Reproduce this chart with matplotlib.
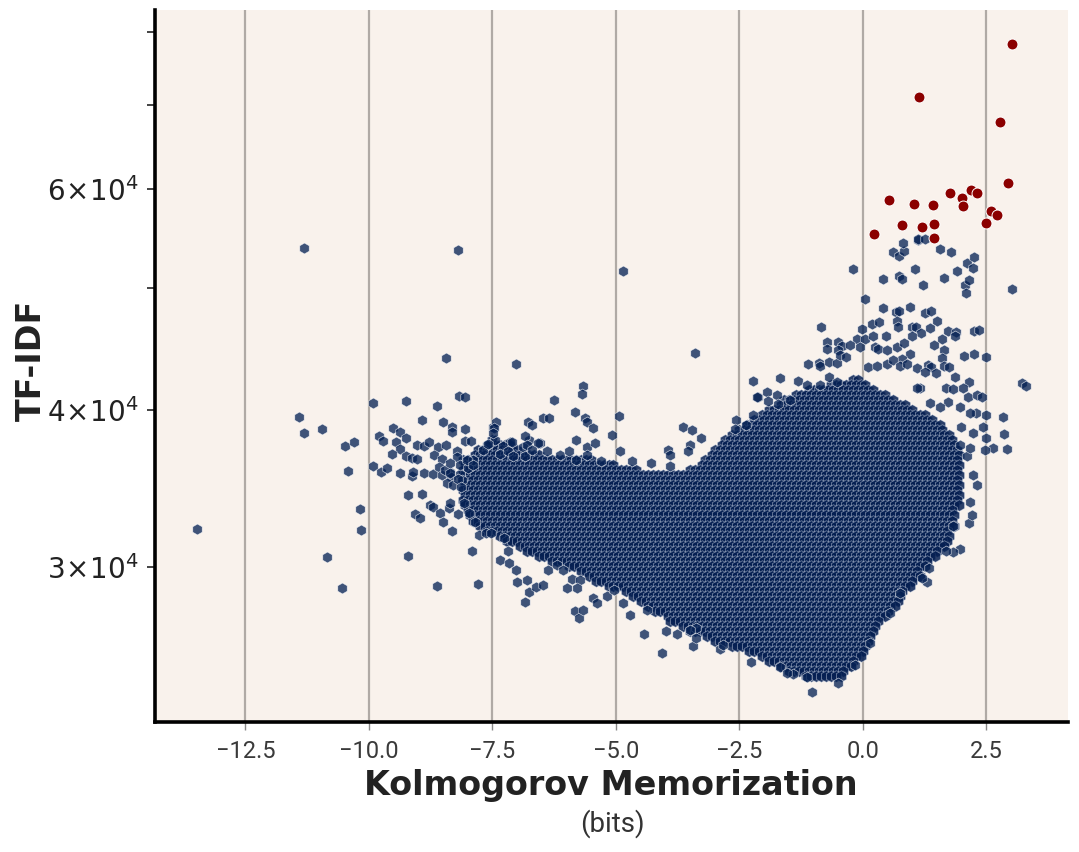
import numpy as np
import matplotlib.pyplot as plt
from matplotlib.ticker import FixedLocator, FuncFormatter, NullFormatter

# column j -> x = GRID_X0 + GRID_DX*j ; row i -> log10(tfidf) = GRID_LOG0 - GRID_DLOG*i
GRID_X0 = -9.6
GRID_DX = 0.1
GRID_LOG0 = np.log10(49000)
GRID_DLOG = 0.004
GRID_FIRST_ROW = 16
CORE_SPANS = [
    "94-95", "89-96", "85-98", "82-100", "80-102", "79-104", "77-106", "75-108",
    "74-110", "72-111", "71-112", "69-113",
    "21-21 68-114", "20-24 67-114", "18-26 66-115", "17-30 65-115",
    "15-41 64-115", "15-45 63-115", "15-50 61-115",
    "15-115", "15-115", "15-115", "15-115", "15-115", "15-115", "15-115",
    "16-114", "16-114", "17-114", "18-114", "20-113", "22-113", "24-113",
    "26-112", "28-111", "30-110", "33-109", "36-108", "39-107", "40-107",
    "42-106", "44-105", "48-104", "49-103", "51-103", "52-102", "54-101",
    "56-100", "57-99", "59-98", "61-98", "64-97", "66-97", "69-96", "73-96",
    "75-95", "77-94", "79-93", "81-92", "84-91",
]

# scattered points around the body (memorization bits, tf-idf)
scatter_x = [
    -13.48, -11.32, -8.20, -8.45, -7.02, -4.86, -3.39, -10.85, -10.54, 3.01, 3.21, 3.30,
    -11.41, -11.32, -10.94, -10.49, -10.31, -10.43, -10.18, -10.16, -9.91, -9.24, -8.63,
    -8.17, -8.05, -8.93, -8.50, -8.32, -8.32, -8.05, -9.51, -9.37, -9.24, -9.80, -9.71,
    -9.46, -9.38, -9.53, -9.24, -9.12, -9.02, -9.02, -8.88, -8.78, -8.60, -8.45, -8.68,
    -8.53, -8.21, -8.22, -8.06, -7.94, -9.91, -9.76, -9.64, -9.37, -9.13, -9.10, -8.89,
    -8.70, -8.59, -8.53, -8.35, -8.34, -8.16, -8.12, -9.20, -8.93, -8.76, -8.71, -8.56,
    -8.37, -8.19, -9.07, -8.97, -8.50, -8.32, -9.21, -8.63, -7.79, -7.91, -8.36, -8.08,
    -7.97, -7.85, -7.77, -7.63, -7.53, -7.26, -7.18, -7.35, -7.16, -7.03, -7.01, -6.80,
    -6.84, -6.76, -6.61, -6.47, -6.37, -6.20, -6.07, -6.00, -5.88, -5.73, -5.78, -5.83,
    -5.74, -5.66, -5.46, -5.38, -5.19, -5.03, -4.86, -4.72, -4.43, -4.38, -4.07, -3.99,
    -3.76, -3.44, -3.37, -3.50, -3.37, -2.89, -2.83, -2.27, -1.04, -0.50, -0.16, -1.41,
    -1.14, -1.68, -1.54, 0.14, 0.55, 0.75, 1.34, 1.29, 1.19, 1.96, 1.83, 1.69, 1.83,
    2.15, 2.20, 2.17, 2.31, 2.23, 2.10, 2.17, 1.96, 2.64, 2.48, 2.91, 2.85, 2.50, 2.42,
    2.23, 1.98, 2.83, 2.50, 2.29, 2.17, 1.96, 1.73, 1.56, 1.36, -2.12, -1.95, -1.75,
    -1.92, -1.73, -1.48, -2.23, -1.68, -1.31, -1.14, -0.87, -0.68, -0.53, -2.15, -2.58,
    -2.60, -2.37, -2.22, -3.64, -3.47, -3.27, -3.50, -3.54, -3.94, -3.91, -4.30, -4.68,
    -3.91, -4.93, -5.07, -4.91, -5.67, -5.69, -6.25, -5.83, -5.63, -5.59, -5.47, -5.80,
    -5.59, -5.43, -5.31, -6.47, -6.35, -6.79, -6.70, -7.14, -6.77, -6.54, -6.88, -7.49,
    -7.42, -7.45, -7.62, -7.69, -7.47, -7.49, -7.29, -7.11, -7.58, -6.85, -6.81, -6.57,
    -7.35, -7.18, -7.08, -6.84, -6.70, -6.40, -6.13, -5.96, -5.80, -5.59, -8.46, -8.36,
    -8.16, -7.99, -7.89, -8.02, -7.89, -8.42, -8.30, -8.36, -8.20, -8.14,
    -0.21, 0.40, 0.73, 0.80, 1.06, 1.22, 1.64, 1.90, 2.06, 2.09, 2.14, 2.10, 2.23, 2.25,
    1.79, 1.55, 0.61, 0.72, 0.84, 0.82, 1.12, 1.11, 1.25, 0.05, 0.40, 0.66, 0.72, 0.95,
    1.26, 1.37, 1.50, -0.84, -0.01, -0.12, 0.04, 0.19, 0.32, 0.68, 0.71, 0.99, 1.07,
    1.17, 1.36, 0.21, 0.46, 1.00, 1.73, 1.88, 1.86, 2.25, 2.35, 1.59, 1.43, 1.63, 1.59,
    -0.72, -0.51, -0.43, -0.26, -0.07, -0.72, -0.51, 0.24, 0.30, 0.48, 0.68, 0.83, 0.96,
    0.80, 2.05, 2.25, 2.50, -1.12, -0.90, -0.87, -0.68, -0.53, -0.47, -0.34, 0.10, 0.28,
    0.48, 0.61, 0.75, 0.90, 1.09, 1.32, 1.38, 1.63, 1.75, 1.26, 1.48, 1.86, 2.15, 1.15,
    1.09, 1.69, 1.83, 2.03, 2.13, 2.30, 2.40,
]
scatter_y = [
    32180, 53810, 53620, 44020, 43520, 51580, 44450, 30570, 28890, 49950, 42070, 41840,
    39500, 38370, 38670, 37440, 37720, 35790, 33360, 32120, 40510, 40710, 40340,
    41080, 40950, 39290, 39125, 38810, 38440, 38630, 38700, 38420, 38040, 38120, 37810,
    37720, 37240, 36920, 36760, 36640, 36560, 37530, 37480, 37720, 37410, 37530, 36870,
    36600, 37140, 36690, 37830, 37810, 36110, 35720, 35960, 35670, 35455, 35740, 35630,
    35570, 36030, 35520, 35740, 35410, 35590, 35200, 34240, 34290, 33620, 33510, 33155,
    33420, 33060, 33060, 32810, 32570, 32080, 30620, 29000, 29090, 30900, 33725, 33725,
    33120, 32590, 31825, 31960, 31930, 31630, 30920, 30400, 30250, 29840, 29180, 29300,
    28130, 28680, 28940, 29020, 29840, 30115, 29840, 28860, 29340, 29300, 28860, 27680,
    27345, 27730, 28340, 28080, 28470, 28770, 28080, 27475, 26520, 27730, 25645, 26700,
    26535, 25960, 26810, 26730, 26320, 25800, 26020, 25220, 23875, 24240, 25070, 24645,
    24540, 24990, 24690, 26090, 27560, 28600, 29930, 29210, 29390, 31000, 30860, 30900, 32355,
    32550, 33015, 33825, 34880, 35520, 36780, 37305, 37530, 37305, 37190, 37240, 38300, 38000, 38770,
    38350, 38810, 39505, 39650, 39820, 39800, 40260, 40630, 40260, 40515, 40960, 41380, 41110,
    40660, 40460, 40760, 42225, 42410, 42200, 41890, 41890, 42530, 42150, 41000, 39290,
    38630, 38930, 39650, 38810, 38580, 38040, 37530, 37120, 37190, 36850, 36330, 36450,
    36110, 39600, 38225, 37120, 41840, 41210, 40760, 39895, 39455, 39170, 38700, 37880,
    37410, 37650, 36440, 39455, 39455, 39170, 38910, 37760, 37880, 37650, 37370, 38810,
    39125, 37880, 37530, 37190, 38700, 38350, 37460, 37760, 37600, 38160, 37530, 37650,
    36920, 37140, 36750, 36750, 37190, 37080, 36850, 37080, 36510, 36850, 35850, 36290,
    36180, 35960, 36510, 36510, 36200, 34990, 34880, 35630, 35265, 34770,
    51770, 50910, 51190, 50910, 51770, 50345, 51005, 51635, 50345, 49615, 50790, 52410, 51860, 52930,
    53415, 53710, 53475, 53055, 53530, 54360, 54630, 54720, 54750, 49025, 48220, 47920, 47980, 48360,
    47780, 47980, 47055, 46570, 46400, 45580, 45600, 46855, 47000, 47115, 46570, 46570, 46570,
    46060, 46485, 45830, 45780, 45830, 46280, 46145, 45810, 46250, 46340, 45550, 45080, 44670, 44045,
    45360, 45310, 45000, 45060, 44930, 44750, 44670, 44890, 44730, 44670, 44890, 45270, 44345,
    43965, 44205, 44320, 44085, 43515, 43645, 43405, 43725, 43595, 44255, 44120, 43325, 43380,
    43540, 43860, 43380, 43515, 43195, 43460, 43325, 43380, 43325, 42925, 42800, 42485, 42150, 41685,
    41640, 41685, 41585, 41640, 41000, 41130, 41000,
]

# flagged high tf-idf points (red)
flag_x = [3.02, 1.13, 2.77, 2.94, 0.53, 1.03, 1.41, 1.77, 2.00, 2.02,
          2.19, 2.31, 2.59, 2.71, 2.50, 0.79, 1.20, 1.44, 1.44, 0.22]
flag_y = [78300, 71000, 67800, 60600, 58800, 58400, 58300, 59500, 59000, 58200,
          59900, 59500, 57600, 57200, 56400, 56200, 56000, 56300, 54800, 55200]

x_ticks = [-12.5, -10.0, -7.5, -5.0, -2.5, 0.0, 2.5]
y_minor = [3e4, 4e4, 5e4, 6e4, 7e4, 8e4]
y_labelled = [3, 4, 6]

# expand the occupancy grid into points
core_x, core_y = [], []
for i, row in enumerate(CORE_SPANS, start=GRID_FIRST_ROW):
    shift = 0.5 * GRID_DX * (i % 2)
    yv = 10 ** (GRID_LOG0 - GRID_DLOG * i)
    for span in row.split():
        a, b = span.split("-")
        for j in range(int(a), int(b) + 1):
            core_x.append(GRID_X0 + GRID_DX * j + shift)
            core_y.append(yv)

plt.rcParams["mathtext.fontset"] = "custom"
plt.rcParams["mathtext.rm"] = "Liberation Sans"
plt.rcParams["mathtext.it"] = "Liberation Sans:italic"
plt.rcParams["mathtext.bf"] = "Liberation Sans:bold"

fig = plt.figure(figsize=(10.79, 8.52), dpi=100)
ax = fig.add_axes([155 / 1079, 1 - 722 / 852, (1068 - 155) / 1079, (722 - 10) / 852])
ax.set_facecolor("#f9f2ec")

face_core = (0.02, 0.12, 0.32, 0.85)
face_pt = (0.02, 0.13, 0.33, 0.76)
edge_core = (0.88, 0.91, 0.96, 0.45)
ax.scatter(core_x, core_y, s=70, marker="h", facecolors=[face_core],
           edgecolors=[edge_core], linewidths=0.6, zorder=3)
ax.scatter(scatter_x, scatter_y, s=62, marker="h", facecolors=[face_pt],
           edgecolors=[(1, 1, 1, 0.7)], linewidths=0.5, zorder=3)
ax.scatter(flag_x, flag_y, s=62, marker="o", c="#8b0000",
           edgecolors="white", linewidths=0.7, zorder=4)

ax.set_yscale("log")
ax.set_xlim(-14.33, 4.15)
ax.set_ylim(22585, 83280)

ax.set_xticks(x_ticks)
ax.set_xticklabels([f"{v:.1f}".replace("-", "\u2212") for v in x_ticks])
ax.xaxis.grid(True, color="#b0aaa5", linewidth=1.6, zorder=1)
ax.set_axisbelow(True)

ax.yaxis.set_major_locator(FixedLocator([]))
ax.yaxis.set_major_formatter(NullFormatter())
ax.yaxis.set_minor_locator(FixedLocator(y_minor))


def ylab(v, pos):
    m = int(round(v / 1e4))
    if m in y_labelled:
        return r"$\mathdefault{%d\!\times\!10^{4}}$" % m
    return ""


ax.yaxis.set_minor_formatter(FuncFormatter(ylab))

for side in ["top", "right"]:
    ax.spines[side].set_visible(False)
for side in ["left", "bottom"]:
    ax.spines[side].set_linewidth(2.6)
    ax.spines[side].set_color("black")

ax.tick_params(axis="x", which="major", length=6, width=1.0, color="#888888",
               labelsize=17, labelcolor="#3a3a3a", pad=7)
for lab in ax.get_xticklabels():
    lab.set_family("Roboto")
    lab.set_fontweight("normal")
ax.tick_params(axis="y", which="minor", length=6, width=1.2, color="#222222",
               labelsize=20, labelcolor="#222222", pad=6)

fig.text(611 / 1079, 1 - 785 / 852, "Kolmogorov Memorization", ha="center", va="center",
         fontsize=24, fontweight="bold", color="#222222", family="DejaVu Sans")
fig.text(612 / 1079, 1 - 824 / 852, "(bits)", ha="center", va="center",
         fontsize=20, fontweight="normal", color="#333333", family="Roboto")
fig.text(31 / 1079, 1 - 360 / 852, "TF-IDF", ha="center", va="center", rotation=90,
         fontsize=24, fontweight="bold", color="#222222", family="DejaVu Sans")

fig.savefig("out.png", dpi=100)
